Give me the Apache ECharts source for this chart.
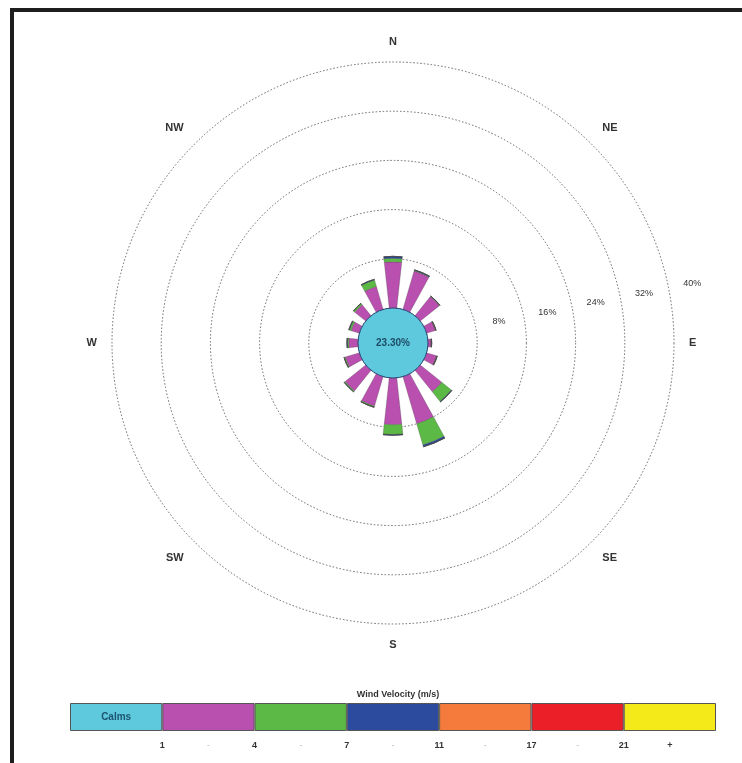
<!DOCTYPE html>
<html>
<head>
<meta charset="utf-8">
<script src="https://cdn.jsdelivr.net/npm/echarts@6/dist/echarts.min.js"></script>
<style>
  html, body { margin: 0; padding: 0; background: #fff; }
  #chart { position: absolute; left: 0; top: 0; width: 742px; height: 763px; }
  #frame { position: absolute; left: 10px; top: 8px; width: 732px; height: 755px;
           border-top: 4px solid #1e1e1e; border-left: 4px solid #1e1e1e;
           box-sizing: border-box; pointer-events: none; }
</style>
</head>
<body>
<div id="chart"></div>
<div id="frame"></div>
<script>
// ---- data ----
const directions = ['N','NNE','NE','ENE','E','ESE','SE','SSE','S','SSW','SW','WSW','W','WNW','NW','NNW'];
const speedBins = ['1 - 4','4 - 7','7 - 11','11 - 17','17 - 21','>= 21'];
const binColors = ['#b94fae','#5cb946','#2c4a9e','#f47b3b','#ea1f27','#f4ea1a'];
const calmColor = '#5ec8dc';
const calmsPct = 23.30;
// frequency (%) per direction, N first, clockwise
const speed1to4   = [7.5, 6.5, 4.0, 1.5, 0.5, 1.7, 4.5, 8.0, 7.6, 5.0, 4.3, 2.4, 1.5, 1.4, 2.3, 3.9];
const speed4to7   = [0.6, 0.1, 0.1, 0.1, 0.05, 0.1, 2.0, 3.6, 1.6, 0.2, 0.2, 0.2, 0.2, 0.3, 0.3, 1.1];
const speed7to11  = [0.3, 0.1, 0.0, 0.0, 0.05, 0.0, 0.1, 0.3, 0.1, 0.0, 0.0, 0.0, 0.1, 0.1, 0.0, 0.1];
const speed11to17 = [0,0,0,0,0,0,0,0,0,0,0,0,0,0,0,0];
const speed17to21 = [0,0,0,0,0,0,0,0,0,0,0,0,0,0,0,0];
const speed21up   = [0,0,0,0,0,0,0,0,0,0,0,0,0,0,0,0];
const ringTicks = [8, 16, 24, 32, 40];
const legendTickLabels = ['1','4','7','11','17','21'];
const legendLastLabel = '+';
const legendTitle = 'Wind Velocity (m/s)';

// ---- build ----
const cx = 393, cy = 343, calmR = 35, outerR = 281;
// rotate so that the list starts at E (radius axis lies between E and ENE)
const startIdx = directions.indexOf('E');
const rot = a => a.slice(startIdx).concat(a.slice(0, startIdx));
const angleCats = rot(directions);
const allBins = [speed1to4, speed4to7, speed7to11, speed11to17, speed17to21, speed21up];

const polarSeries = allBins.map((vals, i) => ({
  type: 'bar',
  name: speedBins[i],
  coordinateSystem: 'polar',
  polarIndex: 0,
  stack: 'wind',
  data: rot(vals),
  barCategoryGap: '45%',
  itemStyle: { color: binColors[i], borderColor: 'rgba(70,70,70,0.55)', borderWidth: 0.5 },
  silent: true,
  z: 3
}));

// legend strip
const legendColors = [calmColor].concat(binColors);
const legendSeries = legendColors.map((c, i) => ({
  type: 'bar',
  xAxisIndex: 0, yAxisIndex: 0,
  stack: 'legend',
  data: [1],
  barWidth: '100%',
  itemStyle: { color: c, borderColor: '#555', borderWidth: 1 },
  label: i === 0 ? { show: true, position: 'inside', formatter: 'Calms',
                     fontSize: 10, fontWeight: 'bold', color: '#1d5570',
                     fontFamily: 'Liberation Sans' } : { show: false },
  silent: true
}));

const legendLabelAt = v => {
  if (v >= 1 && v <= legendTickLabels.length && Math.abs(v - Math.round(v)) < 1e-6)
    return legendTickLabels[Math.round(v) - 1];
  if (Math.abs(v - (legendTickLabels.length + 0.5)) < 1e-6) return legendLastLabel;
  if (v > 1 && v < legendTickLabels.length) return '{sep|-}';
  return '';
};

const chart = echarts.init(document.getElementById('chart'), null, { renderer: 'canvas' });
chart.setOption({
  backgroundColor: '#ffffff',
  animation: false,
  textStyle: { fontFamily: 'Liberation Sans' },
  title: {
    text: legendTitle, left: cx, top: 685, textAlign: 'center',
    textStyle: { fontSize: 9, fontWeight: 'bold', color: '#333', fontFamily: 'Liberation Sans' }
  },
  polar: [
    { center: [cx, cy], radius: [calmR, outerR] },
    { center: [cx, cy], radius: [calmR + 24, outerR + 24] }
  ],
  angleAxis: [
    {
      polarIndex: 0, type: 'category', data: angleCats, startAngle: 11.25, clockwise: true,
      boundaryGap: true,
      axisLine: { show: false }, axisTick: { show: false }, splitLine: { show: false },
      axisLabel: { interval: 1, margin: 15, fontSize: 11, fontWeight: 'bold', color: '#333',
                   fontFamily: 'Liberation Sans' }
    },
    {
      polarIndex: 1, type: 'value', min: 0, max: 360, startAngle: 11.25, show: false
    }
  ],
  radiusAxis: [
    {
      polarIndex: 0, type: 'value', min: 0, max: ringTicks[ringTicks.length - 1], interval: ringTicks[0],
      axisLine: { show: false }, axisTick: { show: false }, axisLabel: { show: false },
      splitLine: { show: true, lineStyle: { color: '#666', type: [1.5, 2], width: 1 } }
    },
    {
      polarIndex: 1, type: 'value', min: 0, max: ringTicks[ringTicks.length - 1], interval: ringTicks[0],
      axisLine: { show: false }, axisTick: { show: false }, splitLine: { show: false },
      axisLabel: { show: true, margin: 0, align: 'center', verticalAlign: 'middle',
                   fontSize: 9, color: '#333', fontFamily: 'Liberation Sans',
                   formatter: v => (ringTicks.indexOf(v) >= 0 ? v + '%' : '') }
    }
  ],
  grid: { left: 70, width: 646, top: 703, height: 28, containLabel: false },
  xAxis: {
    type: 'value', min: 0, max: legendColors.length, interval: 0.5,
    axisLine: { show: false }, axisTick: { show: false }, splitLine: { show: false },
    axisLabel: { margin: 10, fontSize: 9, fontWeight: 'bold', color: '#333',
                 fontFamily: 'Liberation Sans', formatter: legendLabelAt,
                 showMinLabel: true, showMaxLabel: true, hideOverlap: false,
                 rich: { sep: { color: '#aaa', fontSize: 8, fontWeight: 'normal' } } }
  },
  yAxis: { type: 'category', data: ['legend'], show: false },
  series: polarSeries.concat(legendSeries).concat([{
    type: 'pie',
    center: [cx, cy],
    radius: [0, calmR],
    silent: true,
    z: 10,
    data: [{ name: 'Calms', value: calmsPct }],
    itemStyle: { color: calmColor, borderColor: '#2b4a78', borderWidth: 1 },
    label: { show: true, position: 'center', formatter: p => p.value.toFixed(2) + '%',
             fontSize: 10, fontWeight: 'bold', color: '#1d4d66', fontFamily: 'Liberation Sans' },
    labelLine: { show: false }
  }])
});
</script>
</body>
</html>
